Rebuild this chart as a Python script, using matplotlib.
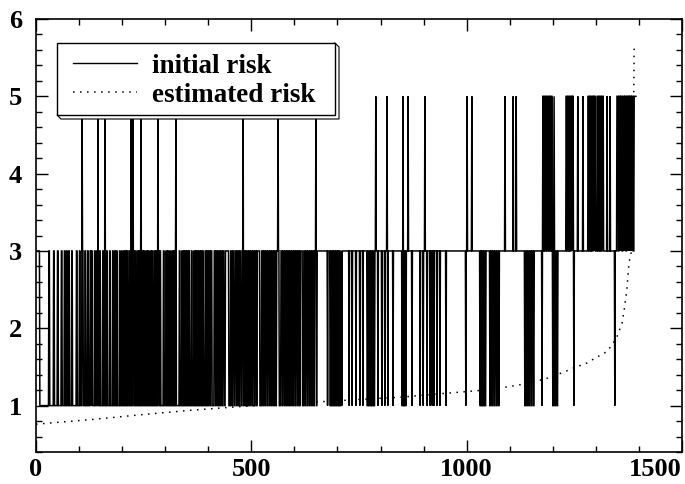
import numpy as np
import matplotlib
matplotlib.use('Agg')
import matplotlib.pyplot as plt
from matplotlib.patches import Polygon, Rectangle
from matplotlib.ticker import MultipleLocator, FixedLocator

plt.rcParams['font.family'] = ['Liberation Serif', 'DejaVu Serif']
plt.rcParams['font.weight'] = 'bold'

# ---------------- data ----------------
N_POINTS = 1394

# index ranges [start, end) where initial risk is 3 (default level is 1)
three_runs = [
    (0, 9), (30, 32), (41, 43), (50, 52), (59, 61), (66, 68), (71, 73), (76, 78), (83, 85),
    (94, 96), (101, 103), (108, 110), (114, 116), (120, 122), (126, 128), (129, 131),
    (136, 138), (141, 143), (148, 150), (155, 157), (160, 162), (164, 166), (171, 173),
    (178, 180), (183, 185), (187, 189), (194, 196), (199, 201), (204, 206),
    (208, 210), (212, 214), (217, 219), (221, 223), (226, 228), (230, 232), (235, 237),
    (239, 241), (243, 245), (248, 250), (252, 254), (257, 259), (261, 263), (266, 268),
    (270, 272), (275, 277), (279, 281), (284, 286), (288, 290),
    (296, 298), (302, 304), (306, 308), (311, 313), (316, 318), (320, 322), (324, 326),
    (333, 335), (339, 341), (343, 345), (347, 349), (351, 353), (355, 357),
    (361, 363), (367, 369), (371, 373), (375, 377), (379, 381), (383, 385), (387, 389),
    (393, 395), (397, 399), (401, 404), (406, 409),
    (414, 417), (419, 422), (424, 427), (429, 432), (434, 437), (440, 448),
    (452, 455), (457, 460), (463, 466), (468, 471), (473, 476), (479, 482), (484, 487),
    (489, 492), (494, 497), (499, 502), (504, 507), (509, 512),
    (514, 520), (524, 527), (529, 532), (534, 537), (539, 542), (544, 547), (549, 552),
    (554, 557),
    (559, 565), (569, 572), (574, 577), (579, 582), (584, 587), (589, 592), (594, 597),
    (599, 602), (604, 607), (609, 612),
    (614, 619), (622, 625), (627, 630), (632, 635), (637, 640), (642, 645), (647, 651),
    (653, 1394),
]

# index ranges where initial risk drops back to 1 in the mostly-3 tail
one_runs = [
    (677, 678),
    (683, 685), (687, 689), (691, 693), (695, 697), (699, 701), (703, 705), (707, 709), (710, 711),
    (727, 728), (734, 735), (743, 744), (752, 753), (759, 760),
    (769, 771), (773, 775), (777, 779), (781, 783), (785, 787),
    (794, 795), (803, 804), (810, 811), (817, 818), (829, 830),
    (850, 852), (854, 856), (858, 860),
    (873, 874),
    (892, 893), (899, 900), (908, 909), (915, 916), (920, 921), (924, 925), (931, 932), (938, 939),
    (952, 953), (998, 999),
    (1031, 1033), (1035, 1037), (1039, 1041), (1043, 1045),
    (1054, 1056), (1059, 1061), (1064, 1066), (1069, 1071), (1074, 1076),
    (1135, 1137), (1140, 1142), (1145, 1147), (1150, 1152), (1155, 1157),
    (1175, 1176),
    (1200, 1202), (1205, 1207), (1210, 1212),
    (1249, 1250), (1344, 1345), (1356, 1357),
]

# index ranges where initial risk is 5
five_runs = [
    (107, 108), (144, 145), (160, 161), (221, 222), (225, 226), (244, 245), (283, 284),
    (325, 326), (481, 482), (562, 563), (650, 651),
    (789, 790), (815, 816), (852, 853), (864, 865), (903, 904), (1001, 1002), (1012, 1013),
    (1089, 1090), (1108, 1109), (1115, 1116),
    (1177, 1179), (1181, 1183), (1185, 1187), (1189, 1191), (1193, 1195), (1197, 1199),
    (1203, 1204),
    (1231, 1233), (1235, 1237), (1239, 1241), (1243, 1245), (1246, 1248),
    (1258, 1259), (1270, 1271),
    (1282, 1284), (1286, 1288), (1290, 1292), (1294, 1296), (1297, 1299),
    (1303, 1305), (1307, 1309), (1311, 1313), (1315, 1318),
    (1326, 1327), (1333, 1334),
    (1349, 1352), (1354, 1357), (1358, 1361), (1363, 1366), (1367, 1370), (1372, 1375),
    (1376, 1379), (1380, 1383), (1384, 1387), (1389, 1394),
]

# estimated risk (sorted curve)
est_index = [0, 130, 240, 360, 480, 660, 850, 943, 1060, 1124, 1180, 1224, 1250, 1279,
             1300, 1326, 1338, 1349, 1361, 1366, 1372, 1377, 1382, 1385, 1387, 1389]
est_value = [0.76, 0.82, 0.88, 0.94, 0.99, 1.05, 1.11, 1.155, 1.21, 1.27, 1.34, 1.43, 1.49,
             1.55, 1.62, 1.70, 1.79, 1.89, 2.07, 2.25, 2.50, 2.85, 2.98, 3.6, 4.5, 5.67]

x_major = [0, 500, 1000, 1500]
y_major = [1, 2, 3, 4, 5, 6]
legend_labels = ['initial risk', 'estimated risk']

# ---------------- figure ----------------
W, H = 685, 484
fig = plt.figure(figsize=(W / 100, H / 100), dpi=100)
L, R, B, T = 36, 682, 452, 19
ax = fig.add_axes([L / W, 1 - B / H, (R - L) / W, (B - T) / H])

idx = np.arange(N_POINTS)
initial = np.ones(N_POINTS)
for a, b in three_runs:
    initial[a:b] = 3
for a, b in one_runs:
    initial[a:b] = 1
for a, b in five_runs:
    initial[a:b] = 5

dot_style = (0, (1, 3.6))
ax.plot(idx, initial, color='black', lw=1.1, solid_joinstyle='miter')
ax.plot(est_index, est_value, color='black', lw=1.1, linestyle=dot_style)

ax.set_xlim(0, 1500)
ax.set_ylim(0.4, 6)
ax.xaxis.set_major_locator(FixedLocator(x_major))
ax.xaxis.set_minor_locator(MultipleLocator(100))
ax.yaxis.set_major_locator(FixedLocator(y_major))
ax.yaxis.set_minor_locator(MultipleLocator(0.2))
ax.tick_params(which='both', direction='in', top=True, right=True, width=1.0)
ax.tick_params(which='major', length=8.6)
ax.tick_params(which='minor', length=4.3)
ax.tick_params(axis='x', which='major', pad=4, labelsize=19)
ax.tick_params(axis='y', which='major', pad=10, labelsize=19)
for s in ax.spines.values():
    s.set_linewidth(1.2)
ax.set_xticklabels([str(v) for v in x_major])
ax.set_yticklabels([str(v) for v in y_major])
for lab in ax.get_xticklabels():
    lab.set_fontweight('bold')
for lab in ax.get_yticklabels():
    lab.set_fontweight('bold')
ax.get_xticklabels()[-1].set_horizontalalignment('right')

# ---------------- legend (pixel overlay) ----------------
ov = fig.add_axes([0, 0, 1, 1], zorder=5)
ov.set_xlim(0, W)
ov.set_ylim(H, 0)
ov.axis('off')
ov.patch.set_alpha(0)
shadow = Polygon([(335, 43), (339, 47), (339, 119), (61, 119), (57, 115)], closed=True,
                 facecolor='white', edgecolor='black', lw=0.8)
ov.add_patch(shadow)
box = Rectangle((57, 43), 278, 72, facecolor='white', edgecolor='black', lw=1.0)
ov.add_patch(box)
ov.plot([73, 137], [63, 63], color='black', lw=1.0)
ov.plot([73, 137], [92, 92], color='black', lw=1.1, linestyle=dot_style)
ov.text(152, 73, legend_labels[0], fontsize=19.5, fontweight='bold', va='baseline', ha='left')
ov.text(152, 101.5, legend_labels[1], fontsize=19.5, fontweight='bold', va='baseline', ha='left')

fig.savefig('out.png', dpi=100)
